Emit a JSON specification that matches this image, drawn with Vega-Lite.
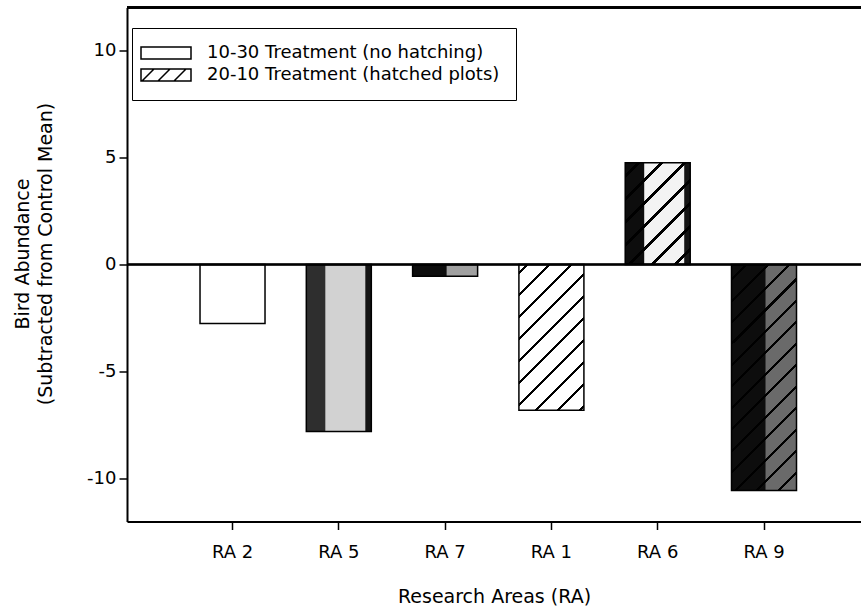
{
  "$schema": "https://vega.github.io/schema/vega-lite/v6.json",
  "width": 734,
  "height": 514,
  "autosize": {"type": "none"},
  "padding": {"left": 127, "top": 7.5, "right": 0, "bottom": 89.5},
  "background": "white",
  "config": {
    "view": {"stroke": null},
    "font": "DejaVu Sans",
    "axis": {"labelFont": "DejaVu Sans", "titleFont": "DejaVu Sans", "labelColor": "black", "titleColor": "black", "grid": false},
    "legend": {"labelFont": "DejaVu Sans"}
  },
  "data": {
    "values": [
      {"area": "RA 2", "treatment": "10-30", "abundance": -2.75},
      {"area": "RA 5", "treatment": "10-30", "abundance": -7.8},
      {"area": "RA 7", "treatment": "10-30", "abundance": -0.55},
      {"area": "RA 1", "treatment": "20-10", "abundance": -6.8},
      {"area": "RA 6", "treatment": "20-10", "abundance": 4.75},
      {"area": "RA 9", "treatment": "20-10", "abundance": -10.55}
    ]
  },
  "layer": [
    {
      "encoding": {
        "x": {
          "field": "area",
          "type": "nominal",
          "sort": ["RA 2", "RA 5", "RA 7", "RA 1", "RA 6", "RA 9"],
          "scale": {"type": "band", "paddingInner": 0.3885, "paddingOuter": 0.6468, "align": 0.531},
          "axis": {
            "labelAngle": 0,
            "labelFontSize": 18,
            "labelPadding": 14,
            "tickSize": 8,
            "tickWidth": 1.5,
            "tickColor": "black",
            "domainColor": "black",
            "domainWidth": 2,
            "titleFontSize": 19,
            "titleFontWeight": "normal",
            "titleY": 75,
            "titleBaseline": "middle"
          },
          "title": "Research Areas (RA)"
        },
        "y": {
          "field": "abundance",
          "type": "quantitative",
          "scale": {"domain": [-12, 12], "nice": false, "zero": false},
          "axis": {
            "values": [-10, -5, 0, 5, 10],
            "labelExpr": "'' + datum.value",
            "labelFontSize": 18,
            "labelPadding": 3,
            "tickSize": 8,
            "tickWidth": 1.5,
            "tickColor": "black",
            "domainColor": "black",
            "domainWidth": 2,
            "titleFontSize": 19,
            "titleFontWeight": "normal",
            "titleAngle": -90,
            "titleX": -105,
            "titleY": 246,
            "titleAlign": "center",
            "titleBaseline": "middle",
            "titleLineHeight": 23
          },
          "title": ["Bird Abundance", "(Subtracted from Control Mean)"]
        }
      },
      "layer": [
        {
          "mark": {"type": "bar", "stroke": null},
          "encoding": {
            "color": {
              "field": "area",
              "type": "nominal",
              "legend": null,
              "scale": {
                "domain": ["RA 2", "RA 5", "RA 7", "RA 1", "RA 6", "RA 9"],
                "range": ["#ffffff", "#d2d2d2", "#a0a0a0", "#ffffff", "#f3f3f3", "#6a6a6a"]
              }
            }
          }
        },
        {
          "transform": [{"filter": {"field": "area", "equal": "RA 5"}}],
          "mark": {"type": "bar", "width": 19, "xOffset": -23, "stroke": null, "color": "#2e2e2e"}
        },
        {
          "transform": [{"filter": {"field": "area", "equal": "RA 6"}}],
          "mark": {"type": "bar", "width": 19, "xOffset": -23, "stroke": null, "color": "#0d0d0d"}
        },
        {
          "transform": [{"filter": {"field": "area", "oneOf": ["RA 7", "RA 9"]}}],
          "mark": {"type": "bar", "width": 34, "xOffset": -15.5, "stroke": null, "color": "#0d0d0d"}
        },
        {
          "transform": [{"filter": {"field": "area", "oneOf": ["RA 5", "RA 6"]}}],
          "mark": {"type": "bar", "width": 6, "xOffset": 29.5, "stroke": null, "color": "#151515"}
        },
        {
          "transform": [{"filter": {"field": "area", "equal": "RA 1"}}],
          "mark": {
            "type": "bar",
            "stroke": null,
            "color": {
              "gradient": "linear", "x1": 0, "y1": 0, "x2": 0.5384, "y2": 1.2061,
              "stops": [
                {"offset": 0, "color": "rgba(0,0,0,0)"},
                {"offset": 0.0356, "color": "rgba(0,0,0,0)"}, {"offset": 0.0356, "color": "black"}, {"offset": 0.0499, "color": "black"}, {"offset": 0.0499, "color": "rgba(0,0,0,0)"},
                {"offset": 0.1401, "color": "rgba(0,0,0,0)"}, {"offset": 0.1401, "color": "black"}, {"offset": 0.1543, "color": "black"}, {"offset": 0.1543, "color": "rgba(0,0,0,0)"},
                {"offset": 0.2445, "color": "rgba(0,0,0,0)"}, {"offset": 0.2445, "color": "black"}, {"offset": 0.2588, "color": "black"}, {"offset": 0.2588, "color": "rgba(0,0,0,0)"},
                {"offset": 0.3490, "color": "rgba(0,0,0,0)"}, {"offset": 0.3490, "color": "black"}, {"offset": 0.3632, "color": "black"}, {"offset": 0.3632, "color": "rgba(0,0,0,0)"},
                {"offset": 0.4535, "color": "rgba(0,0,0,0)"}, {"offset": 0.4535, "color": "black"}, {"offset": 0.4677, "color": "black"}, {"offset": 0.4677, "color": "rgba(0,0,0,0)"},
                {"offset": 0.5579, "color": "rgba(0,0,0,0)"}, {"offset": 0.5579, "color": "black"}, {"offset": 0.5722, "color": "black"}, {"offset": 0.5722, "color": "rgba(0,0,0,0)"},
                {"offset": 0.6624, "color": "rgba(0,0,0,0)"}, {"offset": 0.6624, "color": "black"}, {"offset": 0.6766, "color": "black"}, {"offset": 0.6766, "color": "rgba(0,0,0,0)"},
                {"offset": 0.7669, "color": "rgba(0,0,0,0)"}, {"offset": 0.7669, "color": "black"}, {"offset": 0.7811, "color": "black"}, {"offset": 0.7811, "color": "rgba(0,0,0,0)"},
                {"offset": 0.8713, "color": "rgba(0,0,0,0)"}, {"offset": 0.8713, "color": "black"}, {"offset": 0.8856, "color": "black"}, {"offset": 0.8856, "color": "rgba(0,0,0,0)"},
                {"offset": 0.9758, "color": "rgba(0,0,0,0)"}, {"offset": 0.9758, "color": "black"}, {"offset": 0.9900, "color": "black"}, {"offset": 0.9900, "color": "rgba(0,0,0,0)"},
                {"offset": 1, "color": "rgba(0,0,0,0)"}
              ]
            }
          }
        },
        {
          "transform": [{"filter": {"field": "area", "equal": "RA 6"}}],
          "mark": {
            "type": "bar",
            "stroke": null,
            "color": {
              "gradient": "linear", "x1": 0, "y1": 0, "x2": 0.7438, "y2": 1.1637,
              "stops": [
                {"offset": 0, "color": "rgba(0,0,0,0)"},
                {"offset": 0.0714, "color": "rgba(0,0,0,0)"}, {"offset": 0.0714, "color": "black"}, {"offset": 0.0930, "color": "black"}, {"offset": 0.0930, "color": "rgba(0,0,0,0)"},
                {"offset": 0.2094, "color": "rgba(0,0,0,0)"}, {"offset": 0.2094, "color": "black"}, {"offset": 0.2310, "color": "black"}, {"offset": 0.2310, "color": "rgba(0,0,0,0)"},
                {"offset": 0.3473, "color": "rgba(0,0,0,0)"}, {"offset": 0.3473, "color": "black"}, {"offset": 0.3689, "color": "black"}, {"offset": 0.3689, "color": "rgba(0,0,0,0)"},
                {"offset": 0.4853, "color": "rgba(0,0,0,0)"}, {"offset": 0.4853, "color": "black"}, {"offset": 0.5069, "color": "black"}, {"offset": 0.5069, "color": "rgba(0,0,0,0)"},
                {"offset": 0.6233, "color": "rgba(0,0,0,0)"}, {"offset": 0.6233, "color": "black"}, {"offset": 0.6449, "color": "black"}, {"offset": 0.6449, "color": "rgba(0,0,0,0)"},
                {"offset": 0.7612, "color": "rgba(0,0,0,0)"}, {"offset": 0.7612, "color": "black"}, {"offset": 0.7828, "color": "black"}, {"offset": 0.7828, "color": "rgba(0,0,0,0)"},
                {"offset": 0.8992, "color": "rgba(0,0,0,0)"}, {"offset": 0.8992, "color": "black"}, {"offset": 0.9208, "color": "black"}, {"offset": 0.9208, "color": "rgba(0,0,0,0)"},
                {"offset": 1, "color": "rgba(0,0,0,0)"}
              ]
            }
          }
        },
        {
          "transform": [{"filter": {"field": "area", "equal": "RA 9"}}],
          "mark": {
            "type": "bar",
            "stroke": null,
            "color": {
              "gradient": "linear", "x1": 0, "y1": 0, "x2": 0.3420, "y2": 1.1892,
              "stops": [
                {"offset": 0, "color": "rgba(0,0,0,0)"},
                {"offset": 0.0464, "color": "rgba(0,0,0,0)"}, {"offset": 0.0464, "color": "black"}, {"offset": 0.0567, "color": "black"}, {"offset": 0.0567, "color": "rgba(0,0,0,0)"},
                {"offset": 0.1203, "color": "rgba(0,0,0,0)"}, {"offset": 0.1203, "color": "black"}, {"offset": 0.1306, "color": "black"}, {"offset": 0.1306, "color": "rgba(0,0,0,0)"},
                {"offset": 0.1942, "color": "rgba(0,0,0,0)"}, {"offset": 0.1942, "color": "black"}, {"offset": 0.2045, "color": "black"}, {"offset": 0.2045, "color": "rgba(0,0,0,0)"},
                {"offset": 0.2680, "color": "rgba(0,0,0,0)"}, {"offset": 0.2680, "color": "black"}, {"offset": 0.2784, "color": "black"}, {"offset": 0.2784, "color": "rgba(0,0,0,0)"},
                {"offset": 0.3419, "color": "rgba(0,0,0,0)"}, {"offset": 0.3419, "color": "black"}, {"offset": 0.3522, "color": "black"}, {"offset": 0.3522, "color": "rgba(0,0,0,0)"},
                {"offset": 0.4158, "color": "rgba(0,0,0,0)"}, {"offset": 0.4158, "color": "black"}, {"offset": 0.4261, "color": "black"}, {"offset": 0.4261, "color": "rgba(0,0,0,0)"},
                {"offset": 0.4897, "color": "rgba(0,0,0,0)"}, {"offset": 0.4897, "color": "black"}, {"offset": 0.5000, "color": "black"}, {"offset": 0.5000, "color": "rgba(0,0,0,0)"},
                {"offset": 0.5636, "color": "rgba(0,0,0,0)"}, {"offset": 0.5636, "color": "black"}, {"offset": 0.5739, "color": "black"}, {"offset": 0.5739, "color": "rgba(0,0,0,0)"},
                {"offset": 0.6375, "color": "rgba(0,0,0,0)"}, {"offset": 0.6375, "color": "black"}, {"offset": 0.6478, "color": "black"}, {"offset": 0.6478, "color": "rgba(0,0,0,0)"},
                {"offset": 0.7113, "color": "rgba(0,0,0,0)"}, {"offset": 0.7113, "color": "black"}, {"offset": 0.7216, "color": "black"}, {"offset": 0.7216, "color": "rgba(0,0,0,0)"},
                {"offset": 0.7852, "color": "rgba(0,0,0,0)"}, {"offset": 0.7852, "color": "black"}, {"offset": 0.7955, "color": "black"}, {"offset": 0.7955, "color": "rgba(0,0,0,0)"},
                {"offset": 0.8591, "color": "rgba(0,0,0,0)"}, {"offset": 0.8591, "color": "black"}, {"offset": 0.8694, "color": "black"}, {"offset": 0.8694, "color": "rgba(0,0,0,0)"},
                {"offset": 0.9330, "color": "rgba(0,0,0,0)"}, {"offset": 0.9330, "color": "black"}, {"offset": 0.9433, "color": "black"}, {"offset": 0.9433, "color": "rgba(0,0,0,0)"},
                {"offset": 1, "color": "rgba(0,0,0,0)"}
              ]
            }
          }
        },
        {
          "mark": {"type": "bar", "fill": "transparent", "stroke": "black", "strokeWidth": 1.5}
        },
        {
          "mark": {"type": "point", "opacity": 0},
          "encoding": {
            "shape": {
              "field": "treatment",
              "type": "nominal",
              "scale": {
                "domain": ["10-30", "20-10"],
                "range": [
                  "M-5,-1.2H5V1.2H-5Z",
                  "M-5,-1.2H5V1.2H-5Z M-4.8,1.2L-2.4,-1.2 M-1.6,1.2L0.8,-1.2 M1.6,1.2L4,-1.2"
                ]
              },
              "legend": {
                "title": null,
                "orient": "none",
                "legendX": 5,
                "legendY": 20.5,
                "padding": 16,
                "strokeColor": "black",
                "fillColor": "white",
                "cornerRadius": 0,
                "symbolSize": 100,
                "symbolOpacity": 1,
                "symbolFillColor": "white",
                "symbolStrokeColor": "black",
                "symbolStrokeWidth": 1.5,
                "symbolOffset": 9,
                "labelOffset": 32,
                "labelLimit": 500,
                "labelFontSize": 18,
                "labelColor": "black",
                "rowPadding": 4,
                "labelExpr": "datum.label + ' Treatment (' + (datum.label === '10-30' ? 'no hatching' : 'hatched plots') + ')'"
              }
            }
          }
        }
      ]
    },
    {
      "mark": {"type": "rule", "color": "black", "strokeWidth": 1.5},
      "encoding": {"y": {"datum": 0, "type": "quantitative"}}
    },
    {
      "mark": {"type": "rule", "color": "black", "strokeWidth": 2},
      "encoding": {"y": {"datum": 12, "type": "quantitative"}}
    }
  ]
}
